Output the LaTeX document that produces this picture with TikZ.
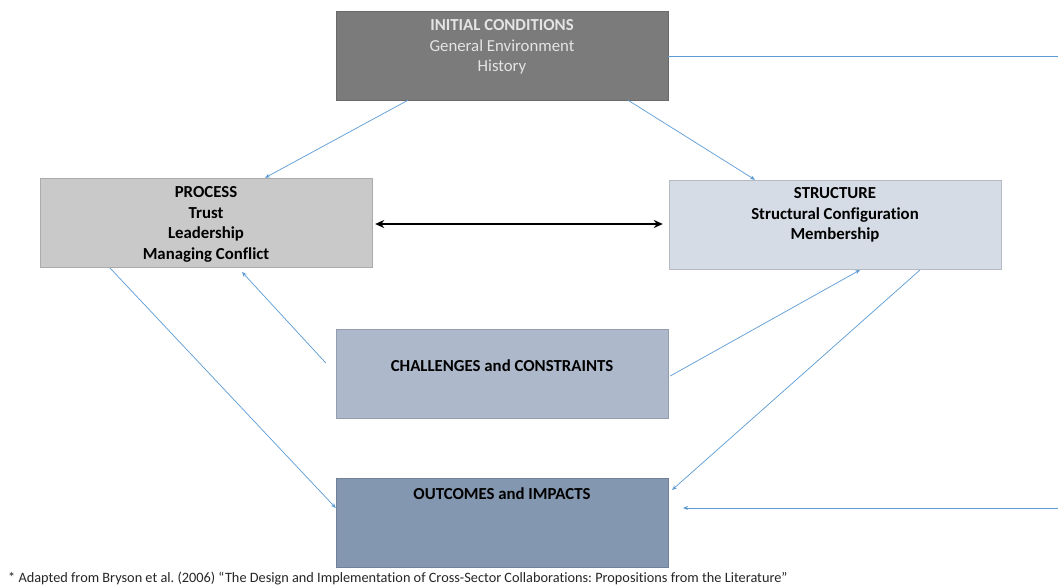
\documentclass[tikz,border=0pt]{standalone}
\usepackage{fontspec}
\setmainfont{Carlito}[Ligatures=NoCommon]
\usetikzlibrary{arrows.meta}
\definecolor{initc}{HTML}{7B7B7B}
\definecolor{procc}{HTML}{C9C9C9}
\definecolor{strc}{HTML}{D6DCE5}
\definecolor{chalc}{HTML}{ADB9CA}
\definecolor{outc}{HTML}{8497B0}
\definecolor{arrc}{HTML}{5B9BD5}
\definecolor{inittext}{HTML}{E4E4E4}
\frenchspacing
\begin{document}
\begin{tikzpicture}[x=1pt,y=-1pt,
  box/.style={draw=#1!85!black, line width=0.4pt, fill=#1, minimum width=332pt, minimum height=89pt, inner sep=0pt},
  btext/.style={anchor=north, align=center, font=\fontsize{16.8}{20.6}\selectfont\bfseries, inner sep=0pt, text=black},
  conn/.style={draw=arrc, line width=0.7pt, -{Stealth[length=5pt,width=4pt]}},
  plain/.style={draw=arrc, line width=0.7pt}]
\useasboundingbox (0,0) rectangle (1058,586);
\fill[white] (0,0) rectangle (1058,586);
% boxes
\node[box=initc] (init) at (502,55.5) {};
\node[box=procc] (proc) at (206,222.5) {};
\node[box=strc] (str) at (835,224.5) {};
\node[box=chalc] (chal) at (502,374) {};
\node[box=outc] (out) at (502,522.5) {};
% texts
\node[btext, text=inittext, font=\fontsize{16.8}{20.6}\selectfont] (initT) at (502,19.5) {\textbf{INITIAL CONDITIONS}\\General Environment\\History};
\node[btext] (procT) at (206,186.5) {PROCESS\\Trust\\Leadership\\Managing Conflict};
\node[btext] (strT) at (835,187.5) {STRUCTURE\\Structural Configuration\\Membership};
\node[btext] (chalT) at (502,359.5) {CHALLENGES and CONSTRAINTS};
\node[btext] (outT) at (502,487.5) {OUTCOMES and IMPACTS};
\node[anchor=west, inner sep=0pt, text=black!85, font=\fontsize{14.3}{16}\selectfont] (foot) at (8,578) {* Adapted from Bryson et al. (2006) ``The Design and Implementation of Cross-Sector Collaborations: Propositions from the Literature''};
% coordinates
\coordinate (rtop) at (1058,56);
\coordinate (rbot) at (1058,508);
% connectors
\draw[conn] (init.south -| 408,0) -- (proc.north -| 265,0);
\draw[conn] (init.south -| 628,0) -- (str.north -| 755,0);
\draw[line width=1.5pt, {Stealth[length=9pt,width=8pt]}-{Stealth[length=9pt,width=8pt]}] (proc.east) ++(3,1.5) coordinate (dA) (str.west) ++(-6,-0.5) coordinate (dB) (dA) -- (dB);
\draw[conn] (110,268) -- (out.west |- 0,508);
\draw[conn] (chal.west) ++(-10,-11) coordinate (cA) (cA) -- (242,272);
\draw[conn] (chal.east) ++(2,2) coordinate (cB) (cB) -- (860,270);
\draw[conn] (920,270) -- (672,490);
\draw[plain] (init.east |- rtop) -- (rtop);
\draw[conn] (rbot) -- (683,508);
\end{tikzpicture}
\end{document}
